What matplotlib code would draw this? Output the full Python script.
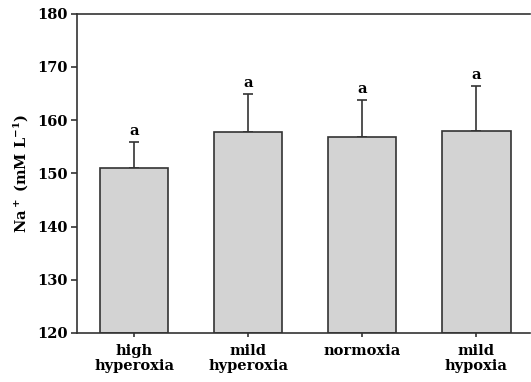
import matplotlib
matplotlib.use("Agg")
import matplotlib.pyplot as plt

categories = ["high\nhyperoxia", "mild\nhyperoxia", "normoxia", "mild\nhypoxia"]
means = [151.0, 157.8, 156.9, 158.0]
errors = [4.8, 7.1, 6.8, 8.3]
letters = ["a", "a", "a", "a"]
yticks = [120, 130, 140, 150, 160, 170, 180]

plt.rcParams['font.family'] = ['DejaVu Serif']
plt.rcParams['font.weight'] = 'bold'
plt.rcParams['mathtext.fontset'] = 'custom'
plt.rcParams['mathtext.rm'] = 'DejaVu Serif:bold'
plt.rcParams['mathtext.bf'] = 'DejaVu Serif:bold'
plt.rcParams['mathtext.it'] = 'DejaVu Serif:bold'

fs = 10.5
fig = plt.figure(figsize=(5.31, 3.82), dpi=100)
ax = fig.add_axes([77/531, 1 - 333/382, (530-77)/531, (333-13.5)/382])
lc = '#333333'
x = range(len(categories))
ax.bar(x, [m - 120 for m in means], bottom=120, width=0.6, color='#d3d3d3',
       edgecolor=lc, linewidth=1.2, zorder=2)
ax.errorbar(x, means, yerr=[[0]*len(errors), errors], fmt='none', ecolor=lc,
            elinewidth=1.2, capsize=3.8, capthick=1.2, zorder=1)
for xi, m, e, l in zip(x, means, errors, letters):
    ax.text(xi, m + e + 0.8, l, ha='center', va='bottom', fontsize=fs, fontweight='bold')

ax.set_ylim(120, 180)
ax.set_xlim(-0.5, 3.47)
ax.set_yticks(yticks)
ax.set_xticks(list(x))
ax.set_xticklabels(categories, fontsize=fs, fontweight='bold', linespacing=1.05)
ax.tick_params(axis='y', labelsize=fs, length=4, width=1.2, color=lc, pad=3)
ax.tick_params(axis='x', length=3, width=1.2, color=lc, pad=5)
for lab in ax.get_yticklabels():
    lab.set_fontweight('bold')
ax.spines['right'].set_visible(False)
for s in ['left', 'bottom', 'top']:
    ax.spines[s].set_color(lc)
    ax.spines[s].set_linewidth(1.2)
ax.set_ylabel(r'Na$^+$ (mM L$^{-1}$)', fontsize=fs, fontweight='bold', labelpad=5)

fig.savefig('out.png', dpi=100)
